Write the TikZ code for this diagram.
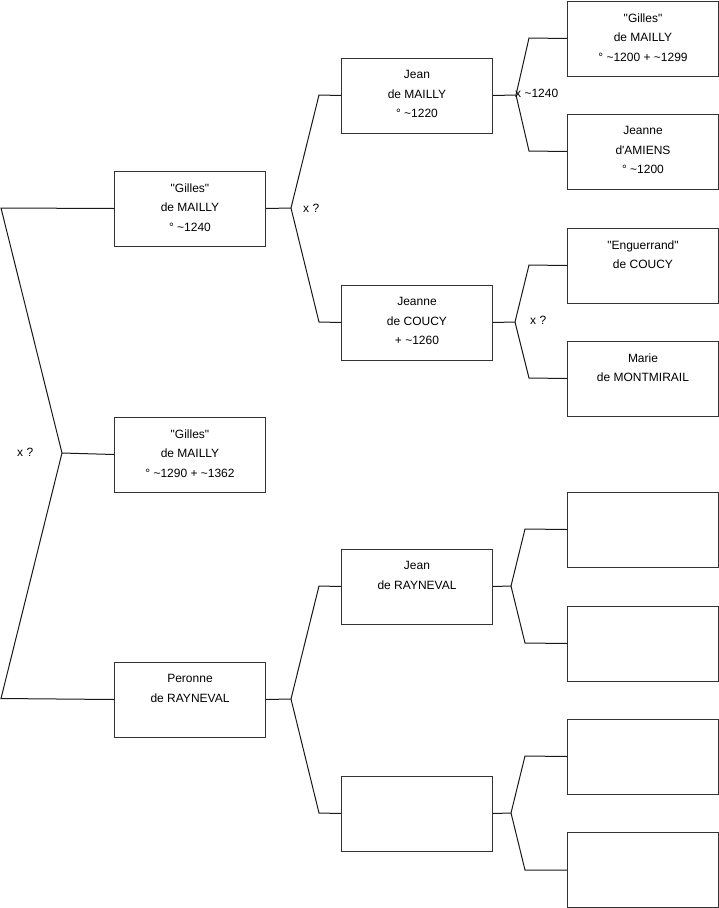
\documentclass[tikz,border=0pt]{standalone}
\usepackage{fontspec}
\setmainfont{Liberation Sans}[Ligatures=TeXOff]
\begin{document}
\begin{tikzpicture}[x=1pt,y=-1pt,
  box/.style={draw=black!80, line width=1pt, minimum width=151pt, minimum height=75pt, inner sep=0pt, anchor=north west},
  lbl/.style={font=\fontsize{12}{19.5}\selectfont, align=center, inner sep=0pt, anchor=north},
  conn/.style={draw=black!90, line width=1pt},
  xlbl/.style={font=\fontsize{12}{14}\selectfont, inner sep=0pt, anchor=west}]
\useasboundingbox (0,0) rectangle (719,908);
% column 1
\node[box] (A1) at (114,170.5) {};
\node[box] (A2) at (114,416.5) {};
\node[box] (A3) at (114,661.5) {};
% column 2
\node[box] (B1) at (341,57.5) {};
\node[box] (B2) at (341,284.5) {};
\node[box] (B3) at (341,548.5) {};
\node[box] (B4) at (341,775.5) {};
% column 3
\node[box] (C1) at (567,0.5) {};
\node[box] (C2) at (567,113.5) {};
\node[box] (C3) at (567,227.5) {};
\node[box] (C4) at (567,340.5) {};
\node[box] (C5) at (567,491.5) {};
\node[box] (C6) at (567,605.5) {};
\node[box] (C7) at (567,718.5) {};
\node[box] (C8) at (567,832) {};
% texts
\node[lbl] (tA1) at ([yshift=-13pt]A1.north) {"Gilles"\\de MAILLY\\° \textasciitilde1240};
\node[lbl] (tA2) at ([yshift=-13pt]A2.north) {"Gilles"\\de MAILLY\\° \textasciitilde1290 + \textasciitilde1362};
\node[lbl] (tA3) at ([yshift=-13pt]A3.north) {Peronne\\de RAYNEVAL};
\node[lbl] (tB1) at ([yshift=-13pt]B1.north) {Jean\\de MAILLY\\° \textasciitilde1220};
\node[lbl] (tB2) at ([yshift=-13pt]B2.north) {Jeanne\\de COUCY\\+ \textasciitilde1260};
\node[lbl] (tB3) at ([yshift=-13pt]B3.north) {Jean\\de RAYNEVAL};
\node[lbl] (tC1) at ([yshift=-13pt]C1.north) {"Gilles"\\de MAILLY\\° \textasciitilde1200 + \textasciitilde1299};
\node[lbl] (tC2) at ([yshift=-13pt]C2.north) {Jeanne\\d'AMIENS\\° \textasciitilde1200};
\node[lbl] (tC3) at ([yshift=-13pt]C3.north) {"Enguerrand"\\de COUCY};
\node[lbl] (tC4) at ([yshift=-13pt]C4.north) {Marie\\de MONTMIRAIL};
% junction points
\coordinate (J0) at (62,453);
\coordinate (J1) at (291,208);
\coordinate (J2) at (291,699);
\coordinate (J3) at (516,95);
\coordinate (J4) at (515,322);
\coordinate (J5) at (511,586);
\coordinate (J6) at (511,813);
% connectors
\draw[conn] (A1.west) -- (1,208) -- (J0) -- (1,698.5) -- (A3.west);
\draw[conn] (J0) -- (A2.west);
\draw[conn] (A1.east) -- (J1);
\draw[conn] (J1) -- (319,95) -- (B1.west);
\draw[conn] (J1) -- (319,322) -- (B2.west);
\draw[conn] (A3.east) -- (J2);
\draw[conn] (J2) -- (319,586) -- (B3.west);
\draw[conn] (J2) -- (319,813) -- (B4.west);
\draw[conn] (B1.east) -- (J3);
\draw[conn] (J3) -- (529,38) -- (C1.west);
\draw[conn] (J3) -- (529,151) -- (C2.west);
\draw[conn] (B2.east) -- (J4);
\draw[conn] (J4) -- (529,265) -- (C3.west);
\draw[conn] (J4) -- (529,378) -- (C4.west);
\draw[conn] (B3.east) -- (J5);
\draw[conn] (J5) -- (525,529) -- (C5.west);
\draw[conn] (J5) -- (525,643) -- (C6.west);
\draw[conn] (B4.east) -- (J6);
\draw[conn] (J6) -- (525,756) -- (C7.west);
\draw[conn] (J6) -- (525,870) -- (C8.west);
% marriage labels
\node[xlbl] (x0) at (17,452) {x ?};
\node[xlbl] (x1) at (303,208) {x ?};
\node[xlbl] (x3) at (515,93) {x \textasciitilde1240};
\node[xlbl] (x4) at (530,320) {x ?};
\end{tikzpicture}
\end{document}
